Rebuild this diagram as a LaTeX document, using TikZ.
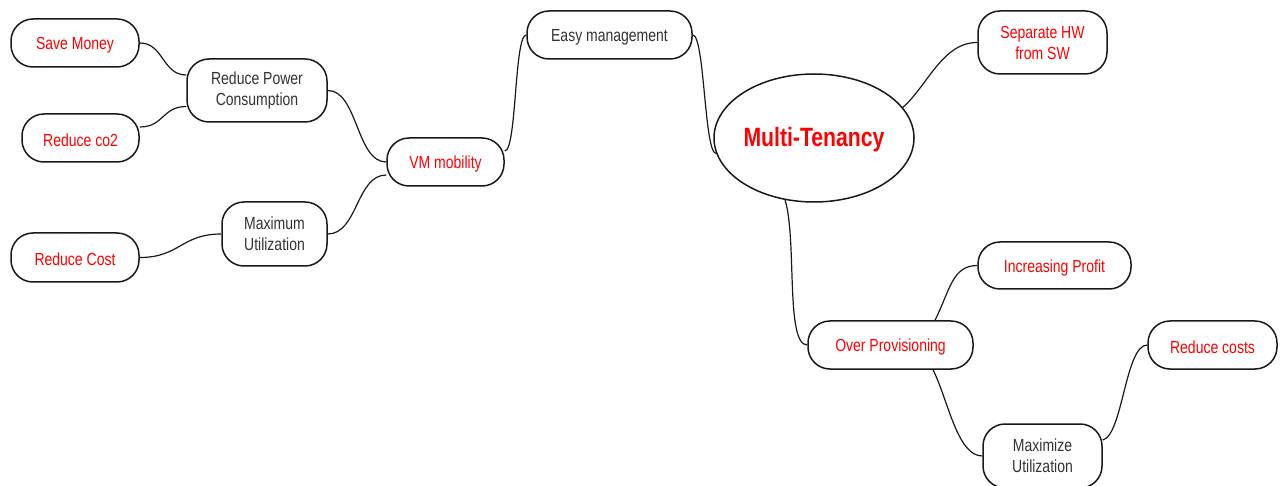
\documentclass[tikz,border=0pt]{standalone}
\usepackage{fontspec}
\setmainfont{Liberation Sans}[FakeStretch=0.8]
\usetikzlibrary{shapes.geometric}

\begin{document}
\begin{tikzpicture}[x=1pt, y=-1pt]
    \tikzset{
        every node/.style={inner sep=0pt, align=center}, % no padding, sizes set by hand
        idea/.style={draw=black!90, line width=1.5pt, rounded corners=22pt, fill=white,
            font=\fontsize{17.5}{21}\selectfont, text=black!80,
            execute at begin node=\rule{0pt}{17pt}}, % rounded boxes, text sits a bit lower
        hot/.style={idea, text=red}, % red labels
        hub/.style={ellipse, draw=black!90, line width=1.5pt, fill=white,
            font=\bfseries\fontsize{26.5}{30}\selectfont, text=red,
            execute at begin node=\rule{0pt}{23pt}}, % central topic
        link/.style={draw=black!90, line width=1.2pt}, % curved connectors
    }
    \useasboundingbox (0,0) rectangle (1280,486);

    % left branch
    \node[hot, minimum width=128pt, minimum height=48pt] (save) at (75,43) {Save Money};
    \node[idea, minimum width=140pt, minimum height=63pt] (rpc) at (257,90.5) {Reduce Power\\Consumption};
    \node[hot, minimum width=117pt, minimum height=48pt] (co2) at (80.5,138) {Reduce co2};
    \node[idea, minimum width=105pt, minimum height=64pt] (maxu) at (274.5,234) {Maximum\\Utilization};
    \node[hot, minimum width=128pt, minimum height=49pt] (cost) at (75,257.5) {Reduce Cost};
    \node[hot, minimum width=117pt, minimum height=48pt] (vm) at (445.5,162) {VM mobility};
    \node[idea, minimum width=165pt, minimum height=48pt] (easy) at (609.5,35) {Easy management};

    % centre
    \node[hub, minimum width=200pt, minimum height=128pt] (mt) at (814,138) {Multi-Tenancy};

    % right branch
    \node[hot, minimum width=129pt, minimum height=63pt] (sep) at (1042.5,42.5) {Separate HW\\from SW};
    \node[hot, minimum width=153pt, minimum height=47pt] (profit) at (1054.5,265.5) {Increasing Profit};
    \node[hot, minimum width=165pt, minimum height=48pt] (over) at (890.5,345) {Over Provisioning};
    \node[idea, minimum width=119pt, minimum height=64pt] (maxz) at (1042.5,456) {Maximize\\Utilization};
    \node[hot, minimum width=129pt, minimum height=48pt] (costs) at (1212.5,345) {Reduce costs};

    \draw[link]
    (save.east) .. controls +(24,0) and +(-24,0) .. ([yshift=15.5pt]rpc.west)
    ([yshift=11pt]co2.east) .. controls +(24,0) and +(-24,0) .. ([yshift=-16pt]rpc.west)
    (rpc.east) .. controls +(30,0) and +(-30,0) .. (vm.west)
    (maxu.east) .. controls +(30,0) and +(-30,0) .. ([yshift=-13pt]vm.west)
    (cost.east) .. controls +(40,0) and +(-40,0) .. (maxu.west)
    ([yshift=11pt]vm.east) .. controls +(12,0) and +(-12,0) .. (easy.west)
    (easy.east) .. controls +(12,0) and +(-12,0) .. (mt.189)
    (mt.19) .. controls +(25,-22) and +(-35,0) .. (sep.west)
    (mt.245) .. controls +(12,40) and +(-22,0) .. (over.west)
    ([xshift=44.5pt]over.north) .. controls +(15,-30) and +(-25,0) .. (profit.west)
    ([xshift=42.5pt]over.south) .. controls +(15,30) and +(-25,0) .. (maxz.west)
    ([yshift=16pt]maxz.east) .. controls +(20,-5) and +(-22,0) .. (costs.west);
\end{tikzpicture}
\end{document}
